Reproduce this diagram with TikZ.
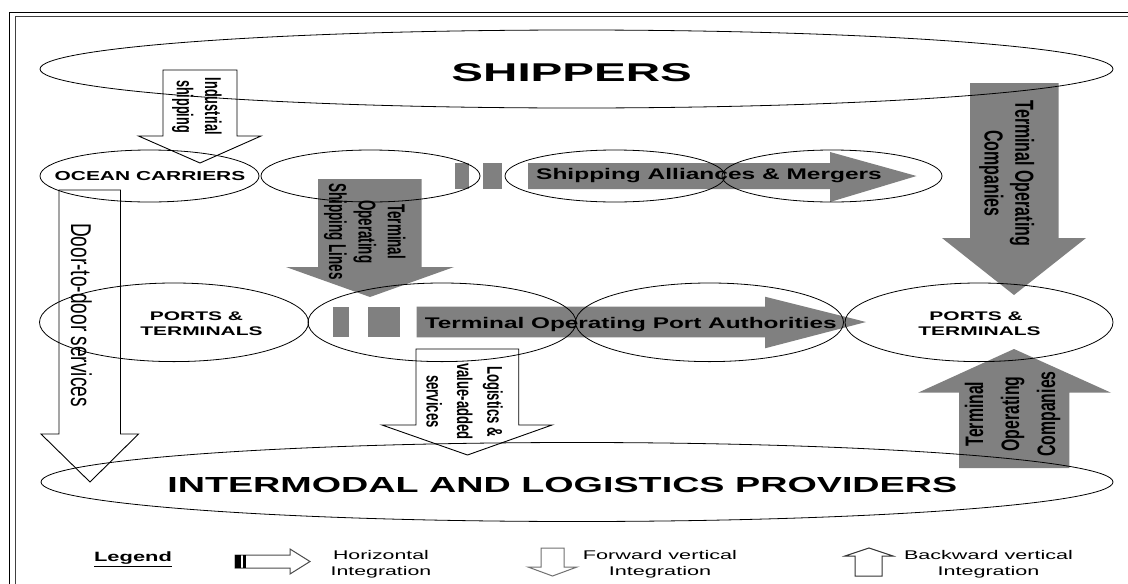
\documentclass[tikz,border=0pt]{standalone}
\usepackage{fontspec}
\setmainfont{Liberation Sans}
\usepackage{graphicx}
\definecolor{arrgray}{HTML}{808080}
\definecolor{leggray}{HTML}{707070}
\begin{document}
\begin{tikzpicture}[x=1pt,y=-1pt,
  whitearrow/.style={draw=black, line width=0.9pt, fill=white, line join=miter},
  grayshape/.style={fill=arrgray, draw=none},
  ell/.style={draw=black, line width=0.8pt},
  lbl/.style={anchor=base, inner sep=0pt, outer sep=0pt},
  ctr/.style={anchor=center, inner sep=0pt, outer sep=0pt},
  frameout/.style={draw=black, line width=1.5pt},
  framein/.style={draw=black!75, line width=0.9pt},
  legarrow/.style={draw=leggray, line width=1pt, fill=white}
]
\useasboundingbox (0,0) rectangle (1128,584);
\clip (0,0) rectangle (1128,584);
\fill[white] (0,0) rectangle (1128,584);

% frame
\draw[frameout] (9.7,600) -- (9.7,12.7) -- (1140,12.7);
\draw[framein] (15.3,600) -- (15.3,16.9) -- (1140,16.9);

% white (forward vertical) arrows
\path[whitearrow] (163,70) -- (237,70) -- (237,136) -- (261,136) -- (200,163) -- (138.5,136) -- (163,136) -- cycle;
\path[whitearrow] (59,190) -- (120.5,190) -- (120.5,434) -- (138.5,434) -- (90,482) -- (41,434) -- (59,434) -- cycle;
\path[whitearrow] (416,349) -- (518.7,349) -- (518.7,425) -- (552,425) -- (467.5,455) -- (382,425) -- (416,425) -- cycle;

% gray vertical arrows
\path[grayshape] (318,179) -- (421.6,179) -- (421.6,267) -- (454,267) -- (370,297) -- (286,267) -- (318,267) -- cycle;
\path[grayshape] (970,83) -- (1058.6,83) -- (1058.6,238) -- (1086,238) -- (1014,295) -- (942,238) -- (970,238) -- cycle;
\path[grayshape] (959,468) -- (1069.4,468) -- (1069.4,392.7) -- (1111,392.7) -- (1014,349) -- (918,392.7) -- (959,392.7) -- cycle;

% gray horizontal arrows with bars
\path[grayshape] (455,163) rectangle (469,189);
\path[grayshape] (483,163) rectangle (502,189);
\path[grayshape] (528,163) -- (830,163) -- (830,152) -- (916.5,176) -- (830,202) -- (830,189) -- (528,189) -- cycle;
\path[grayshape] (333,306.7) rectangle (349.3,337.3);
\path[grayshape] (367.7,306.7) rectangle (400,337.3);
\path[grayshape] (416.7,306.7) -- (765,306.7) -- (765,296.7) -- (866,322) -- (765,348.3) -- (765,337.3) -- (416.7,337.3) -- cycle;

% ellipses
\draw[ell] (576.5,69) ellipse [x radius=536.5, y radius=39];
\draw[ell] (149.5,176) ellipse [x radius=109.5, y radius=26];
\draw[ell] (370.5,176) ellipse [x radius=109.5, y radius=26];
\draw[ell] (615,176) ellipse [x radius=110, y radius=26];
\draw[ell] (832,176) ellipse [x radius=110, y radius=26];
\draw[ell] (174,322.3) ellipse [x radius=134.5, y radius=39.3];
\draw[ell] (442,322.3) ellipse [x radius=134, y radius=39.3];
\draw[ell] (709.5,322.3) ellipse [x radius=134, y radius=39.3];
\draw[ell] (979,322.3) ellipse [x radius=134, y radius=39.3];
\draw[ell] (577,482) ellipse [x radius=536, y radius=39.5];

% horizontal texts
\node[lbl, font=\bfseries\fontsize{25.7}{30}\selectfont] (shippers) at (571.7,81.7) {\scalebox{1.85}[1]{SHIPPERS}};
\node[lbl, font=\bfseries\fontsize{21.8}{26}\selectfont] (intermodal) at (562.3,492.3) {\scalebox{1.73}[1]{INTERMODAL AND LOGISTICS PROVIDERS}};
\node[lbl, font=\bfseries\fontsize{13}{15}\selectfont] (ocean) at (150,180) {\scalebox{1.61}[1]{OCEAN CARRIERS}};
\node[lbl, font=\bfseries\fontsize{15.4}{18}\selectfont] (alliances) at (709,179.3) {\scalebox{1.59}[1]{Shipping Alliances \& Mergers}};
\node[lbl, font=\bfseries\fontsize{15.4}{18}\selectfont] (portauth) at (630.7,328.3) {\scalebox{1.58}[1]{Terminal Operating Port Authorities}};
\node[ctr, font=\bfseries\fontsize{12.5}{15}\selectfont] (portsL) at (201.5,324.5) {\scalebox{1.68}[1]{\begin{tabular}{@{}c@{}}PORTS \&\kern6pt\\TERMINALS\end{tabular}}};
\node[ctr, font=\bfseries\fontsize{12.5}{15}\selectfont] (portsR) at (979.5,324.5) {\scalebox{1.68}[1]{\begin{tabular}{@{}c@{}}PORTS \&\kern4pt\\TERMINALS\end{tabular}}};

% rotated texts
\node[ctr, rotate=-90, font=\bfseries\fontsize{12.7}{15.6}\selectfont] (industrial) at (196.6,106.5) {\scalebox{1}[1.8]{\begin{tabular}{@{}c@{}}Industrial\\shipping\end{tabular}}};
\node[ctr, rotate=-90, font=\bfseries\fontsize{13.4}{16.2}\selectfont] (tosl) at (364.4,231.7) {\scalebox{1}[1.82]{\begin{tabular}{@{}c@{}}Terminal\\Operating\\Shipping Lines\end{tabular}}};
\node[lbl, rotate=-90, font=\fontsize{19.1}{22}\selectfont] (door) at (71,315) {\scalebox{1}[1.5]{Door-to-door services}};
\node[ctr, rotate=-90, font=\bfseries\fontsize{13.1}{18.7}\selectfont] (logistics) at (463.1,401.5) {\scalebox{1}[1.63]{\begin{tabular}{@{}c@{}}Logistics \&\\value-added\\services\end{tabular}}};
\node[ctr, rotate=-90, font=\bfseries\fontsize{16}{18.8}\selectfont] (tocdown) at (1006.1,173.3) {\scalebox{1}[1.63]{\begin{tabular}{@{}c@{}}Terminal Operating\\Companies\end{tabular}}};
\node[ctr, rotate=90, font=\bfseries\fontsize{15.8}{22.5}\selectfont] (tocup) at (1011.9,414) {\scalebox{1}[1.6]{\begin{tabular}{@{}c@{}}Terminal\\Operating\\Companies\end{tabular}}};

% legend
\node[lbl, font=\bfseries\fontsize{13.5}{16}\selectfont] (legend) at (133,561.7) {\scalebox{1.62}[1]{\underline{Legend}}};
\path[legarrow, draw=black!70] (235,555) -- (290,555) -- (290,549) -- (310,561.5) -- (290,574) -- (290,568) -- (235,568) -- cycle;
\fill[black] (235,555) rectangle (240.5,568);
\fill[black] (242.5,555) rectangle (246,568);
\node[ctr, font=\fontsize{12.6}{16}\selectfont] (leghor) at (381,563.8) {\scalebox{1.69}[1]{\begin{tabular}{@{}c@{}}Horizontal\\Integration\end{tabular}}};
\path[legarrow] (541,548) -- (564,548) -- (564,567) -- (577,567) -- (552.5,576) -- (528,567) -- (541,567) -- cycle;
\node[ctr, font=\fontsize{12.6}{16}\selectfont] (legfwd) at (660,563.8) {\scalebox{1.72}[1]{\begin{tabular}{@{}c@{}}Forward vertical\\Integration\end{tabular}}};
\path[legarrow, draw=black!80] (855,576) -- (882,576) -- (882,556) -- (893,556) -- (869,548) -- (845,556) -- (855,556) -- cycle;
\node[ctr, font=\fontsize{12.6}{16}\selectfont] (legbwd) at (988.5,563.8) {\scalebox{1.71}[1]{\begin{tabular}{@{}c@{}}Backward vertical\\Integration\end{tabular}}};
\end{tikzpicture}
\end{document}
